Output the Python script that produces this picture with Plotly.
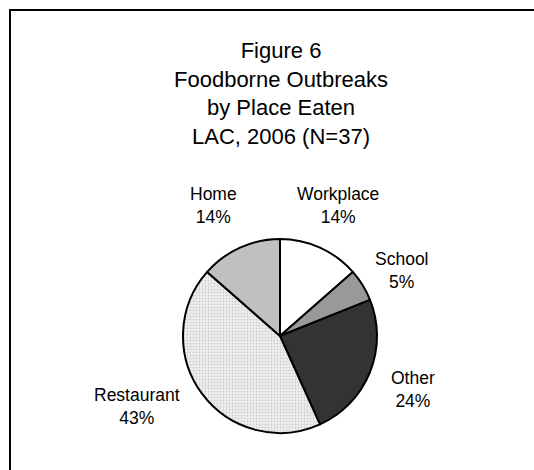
import plotly.graph_objects as go

# Data
categories = ["Workplace", "School", "Other", "Restaurant", "Home"]
counts = [5, 2, 9, 16, 5]
total = sum(counts)
percent_labels = [f"{round(100 * c / total)}%" for c in counts]
title_lines = ["Figure 6", "Foodborne Outbreaks", "by Place Eaten", "LAC, 2006 (N=37)"]

# Styles
colors = ["#ffffff", "#999999", "#333333", "#e8e8e8", "#c0c0c0"]
patterns = ["", "", "", ".", ""]

W, H = 534, 470
FONT = "Arial, Liberation Sans, sans-serif"

def px(x):
    return x / W

def py(y):
    return 1 - y / H

cx, cy, r = 280, 336, 97

fig = go.Figure(go.Pie(
    labels=categories,
    values=counts,
    sort=False,
    direction="clockwise",
    rotation=0,
    textinfo="none",
    hoverinfo="label+percent",
    marker=dict(
        colors=colors,
        line=dict(color="#000000", width=2),
        pattern=dict(shape=patterns, fgcolor="#a8a8a8", bgcolor="#f0f0f0",
                     size=3, solidity=0.3, fillmode="overlay"),
    ),
    domain=dict(x=[px(cx - r), px(cx + r)], y=[py(cy + r), py(cy - r)]),
    showlegend=False,
))

# label positions (pixel centres)
label_pos = {
    "Workplace": (338, 205),
    "School": (402, 270),
    "Other": (413, 389),
    "Restaurant": (137, 406),
    "Home": (213, 205),
}

annotations = []
for cat, pct in zip(categories, percent_labels):
    x, y = label_pos[cat]
    annotations.append(dict(
        x=px(x), y=py(y), xref="paper", yref="paper",
        text=f"{cat}<br>{pct}", showarrow=False,
        xanchor="center", yanchor="middle",
        font=dict(family=FONT, size=17.5, color="#000000"),
    ))

annotations.append(dict(
    x=px(281), y=py(94), xref="paper", yref="paper",
    text="<br>".join(title_lines), showarrow=False,
    xanchor="center", yanchor="middle",
    font=dict(family=FONT, size=22, color="#000000"),
))

frame_line = dict(color="#000000", width=2)
fig.update_layout(
    width=W, height=H,
    margin=dict(l=0, r=0, t=0, b=0),
    paper_bgcolor="#ffffff",
    plot_bgcolor="#ffffff",
    annotations=annotations,
    shapes=[
        dict(type="line", xref="paper", yref="paper",
             x0=px(9), x1=1.5, y0=py(10), y1=py(10), line=frame_line),
        dict(type="line", xref="paper", yref="paper",
             x0=px(10), x1=px(10), y0=py(9), y1=-0.5, line=frame_line),
    ],
)

fig.write_html(
    "out.html",
    config={"displayModeBar": False},
    post_script=("document.body.style.margin='0';"
                 "document.body.style.overflow='hidden';"
                 "document.documentElement.style.overflow='hidden';"),
)
